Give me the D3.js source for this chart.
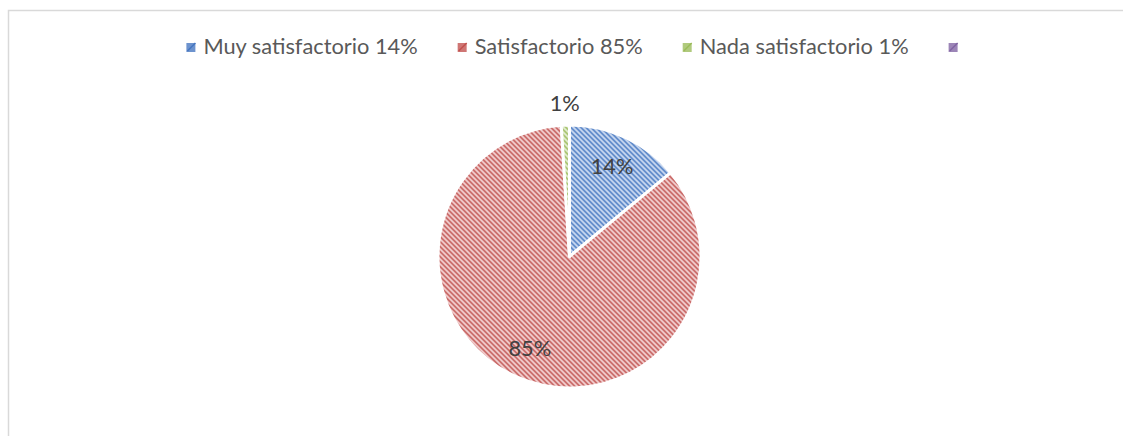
<!DOCTYPE html>
<html>
<head>
<meta charset="utf-8">
<script src="https://cdn.jsdelivr.net/npm/d3@7"></script>
<style>
  html, body { margin: 0; padding: 0; background: #fff; }
  svg { display: block; }
  text { font-family: Lato, "Open Sans", sans-serif; }
</style>
</head>
<body>
<div id="chart"></div>
<script>
// data
var categories = ["Muy satisfactorio 14%", "Satisfactorio 85%", "Nada satisfactorio 1%", ""];
var values = [14, 85, 1, 0];
var labels = ["14%", "85%", "1%", ""];
var darkColors = ["#4576c0", "#c0504d", "#9bbb59", "#8064a2"];
var lightColors = ["#c9d8f0", "#f1cfcf", "#e2ecd2", "#dcd3e8"];

var W = 1123, H = 436;
var cx = 569.5, cy = 256.5, R = 131.5;
var fontSize = 21.8;

var svg = d3.select("#chart").append("svg")
	.attr("width", W)
	.attr("height", H);

// hatch patterns, one per series (5px period, 2px dark run)
var defs = svg.append("defs");
categories.forEach(function(c, i) {
	var p = defs.append("pattern")
		.attr("id", "hatch" + i)
		.attr("patternUnits", "userSpaceOnUse")
		.attr("width", 5).attr("height", 5);
	p.append("rect").attr("width", 5).attr("height", 5).attr("fill", lightColors[i]);
	for (var k = 0; k < 5; k++) {
		p.append("rect")
			.attr("x", k).attr("y", k)
			.attr("width", k == 4 ? 1 : 2).attr("height", 1)
			.attr("shape-rendering", "crispEdges")
			.attr("fill", darkColors[i]);
	}
	p.append("rect").attr("x", 0).attr("y", 4).attr("width", 1).attr("height", 1)
		.attr("shape-rendering", "crispEdges").attr("fill", darkColors[i]);
});

// chart border (runs off the right and bottom edges)
svg.append("rect")
	.attr("x", 8.5).attr("y", 10.5)
	.attr("width", 1130).attr("height", 440)
	.attr("fill", "none")
	.attr("stroke", "#d9d9d9")
	.attr("stroke-width", 1.5);

var pie = d3.pie().sort(null).value(function(d) { return d; });
var arcs = pie(values);
var arc = d3.arc().innerRadius(0).outerRadius(R);
var labelArc = d3.arc().innerRadius(100).outerRadius(100);
var outsideArc = d3.arc().innerRadius(153).outerRadius(153);

var g = svg.append("g").attr("transform", "translate(" + cx + "," + cy + ")");

g.selectAll("path.slice")
	.data(arcs.filter(function(d) { return d.value > 0; }))
	.enter().append("path")
	.attr("class", "slice")
	.attr("d", arc)
	.attr("fill", function(d) { return "url(#hatch" + d.index + ")"; })
	.attr("stroke", "#fff")
	.attr("stroke-width", 3)
	.attr("stroke-linejoin", "round");

g.selectAll("text.lbl")
	.data(arcs.filter(function(d) { return d.value > 0; }))
	.enter().append("text")
	.attr("class", "lbl")
	.attr("transform", function(d) {
		var a = (d.endAngle - d.startAngle) < 0.2 ? outsideArc : labelArc;
		return "translate(" + a.centroid(d) + ")";
	})
	.attr("text-anchor", "middle")
	.attr("dy", "0.35em")
	.attr("font-size", fontSize)
	.attr("fill", "#404040")
	.text(function(d) { return labels[d.index]; });

// legend
var legend = svg.append("g");
var items = legend.selectAll("g.item").data(categories).enter().append("g").attr("class", "item");
items.append("rect")
	.attr("y", 43).attr("width", 9).attr("height", 9)
	.attr("fill", function(d, i) { return d3.interpolateRgb(darkColors[i], lightColors[i])(0.3); });
items.append("path")
	.attr("d", "M1,51L9,43")
	.attr("stroke", function(d, i) { return darkColors[i]; })
	.attr("stroke-width", 1.5);
items.append("text")
	.attr("x", 17).attr("y", 54)
	.attr("font-size", fontSize)
	.attr("fill", "#595959")
	.text(function(d) { return d; });

var widths = [];
items.each(function() {
	var t = d3.select(this).select("text").node();
	widths.push(17 + (t.textContent ? t.getComputedTextLength() : 0));
});
var gap = 40;
var total = d3.sum(widths) + gap * (widths.length - 1) - (widths[widths.length - 1] - 9);
var x0 = 572 - total / 2;
items.attr("transform", function(d, i) {
	var x = x0 + d3.sum(widths.slice(0, i)) + gap * i;
	return "translate(" + x + ",0)";
});
</script>
</body>
</html>
